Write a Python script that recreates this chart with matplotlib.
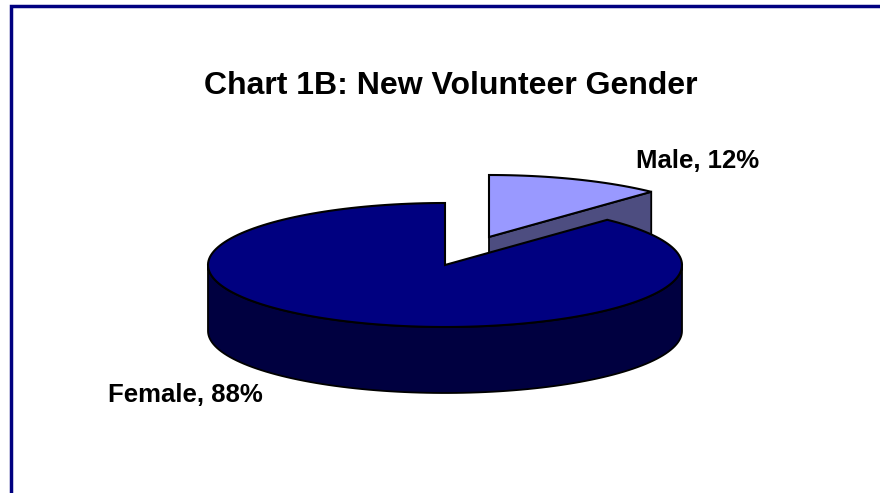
import numpy as np
import matplotlib
matplotlib.use('Agg')
import matplotlib.pyplot as plt
from matplotlib.patches import Polygon

plt.rcParams['font.family'] = ['Liberation Sans', 'DejaVu Sans']

title = 'Chart 1B: New Volunteer Gender'
labels = ['Male', 'Female']
values = [12, 88]
top_colors = ['#9999ff', '#000080']
side_colors = ['#4d4d80', '#000040']

# pie geometry in pixels
rx, ry, depth = 237, 62, 66
centers = [(489, 237), (445, 265)]

def arc(cx, cy, a0, a1):
    # angles clockwise from 12 o'clock, in percent of the pie
    t = np.radians(np.linspace(a0, a1, int(abs(a1 - a0)) * 2 + 2) * 3.6)
    return np.column_stack([cx + rx * np.sin(t), cy - ry * np.cos(t)])

fig = plt.figure(figsize=(8.8, 4.93), dpi=100)
ax = fig.add_axes([0, 0, 1, 1])
ax.set_xlim(0, 880)
ax.set_ylim(493, 0)
ax.axis('off')

# frame, only top and left show up
ax.plot([10.8, 10.8, 880], [493, 5.8, 5.8], color='#000080', lw=2.5,
        solid_joinstyle='miter')

# male slice, cut wall first then the top
cx, cy = centers[0]
rim = arc(cx, cy, 0, values[0])
wall = [(cx, cy), rim[-1], (rim[-1][0], cy + depth - (cy - rim[-1][1])), (cx, cy + depth)]
ax.add_patch(Polygon(wall, fc=side_colors[0], ec='k', lw=1.3))
top = np.vstack([[(cx, cy)], rim])
ax.add_patch(Polygon(top, fc=top_colors[0], ec='k', lw=1.5, joinstyle='miter'))

# female slice, outer wall then the top
cx, cy = centers[1]
low = arc(cx, cy, 25, 75)
wall = np.vstack([low, (low + [0, depth])[::-1]])
ax.add_patch(Polygon(wall, fc=side_colors[1], ec='k', lw=1.3))
rim = arc(cx, cy, values[0], 100)
top = np.vstack([[(cx, cy)], rim])
ax.add_patch(Polygon(top, fc=top_colors[1], ec='k', lw=1.5, joinstyle='miter'))

ax.text(451, 94, title, fontsize=23, fontweight='bold', ha='center', va='baseline', color='k')
ax.text(698, 168, '%s, %d%%' % (labels[0], values[0]), fontsize=18.5, fontweight='bold',
        ha='center', va='baseline', color='k')
ax.text(185, 402, '%s, %d%%' % (labels[1], values[1]), fontsize=18.5, fontweight='bold',
        ha='center', va='baseline', color='k')

plt.savefig('out.png', dpi=100)
